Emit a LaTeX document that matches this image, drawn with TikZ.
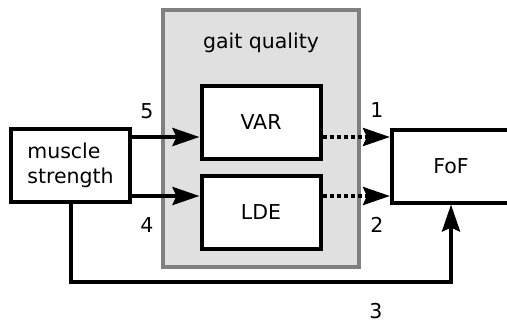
\documentclass[tikz,border=0pt]{standalone}
\usepackage{fontspec}
\setmainfont{DejaVu Sans}
\usetikzlibrary{arrows.meta,positioning,calc}
\definecolor{groupgray}{RGB}{224,224,224}
\definecolor{groupedge}{RGB}{128,128,128}

\begin{document}
\begin{tikzpicture}[x=1pt,y=-1pt,line width=4pt,
    font=\fontsize{20.5}{24.6}\selectfont,
    block/.style={draw=black,fill=white,minimum width=119pt,minimum height=73pt,inner sep=0pt},
    arr/.style={-{Stealth[length=27pt,width=18pt,inset=4pt]},line join=miter},
    dotarr/.style={arr,dash pattern=on 4pt off 3pt},
    num/.style={anchor=base}]
  \useasboundingbox (0,0) rectangle (507,322);
  % group of gait measures
  \node[draw=groupedge,fill=groupgray,minimum width=196pt,minimum height=257pt,inner sep=0pt] (gait) at (261,138.5) {};
  \node[anchor=base] (gaitlabel) at (261,48) {gait quality};
  \node[block] (VAR) at (261,122.5) {VAR};
  \node[block] (LDE) at (261,212) {LDE};
  \node[block,align=left] (muscle) at (70.5,165.5) {muscle\\strength};
  \node[block,minimum width=118pt] (FoF) at (451,166) {FoF};
  % paths
  \draw[arr] ([yshift=28.5pt]muscle.east) coordinate (m5) -- (m5 -| VAR.west);
  \draw[arr] ([yshift=-30.5pt]muscle.east) coordinate (m4) -- (m4 -| LDE.west);
  \draw[dotarr] (VAR.east |- m5) -- (m5 -| FoF.west);
  \draw[dotarr] (LDE.east |- m4) -- (m4 -| FoF.west);
  \draw[arr] (muscle.south) -- ++(0,78) -| (FoF.south);
  % path numbers
  \node[num] (n5) at (147,118) {5};
  \node[num] (n4) at (147,232) {4};
  \node[num] (n1) at (377,117) {1};
  \node[num] (n2) at (377,232) {2};
  \node[num] (n3) at (376,318) {3};
\end{tikzpicture}
\end{document}
